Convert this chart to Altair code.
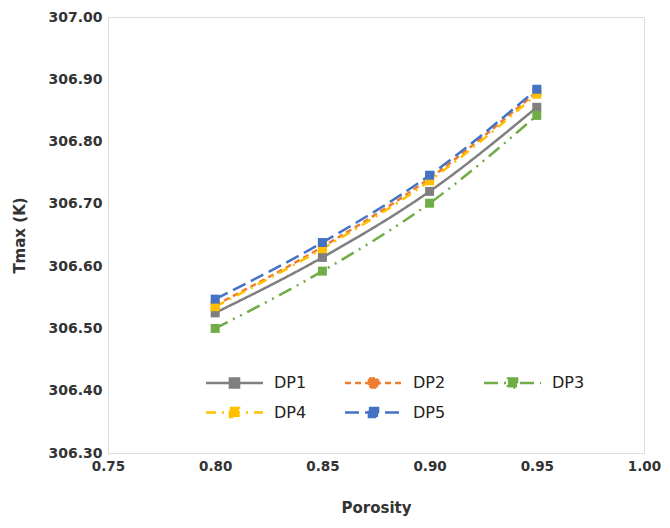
import altair as alt
import pandas as pd

porosity = [0.80, 0.85, 0.90, 0.95]
series_names = ["DP1", "DP2", "DP3", "DP4", "DP5"]
dp1 = [306.525, 306.614, 306.720, 306.855]
dp2 = [306.537, 306.631, 306.741, 306.880]
dp3 = [306.500, 306.592, 306.701, 306.842]
dp4 = [306.535, 306.628, 306.737, 306.876]
dp5 = [306.547, 306.638, 306.746, 306.884]
colors = ["#7F7F7F", "#ED7D31", "#70AD47", "#FFC000", "#4472C4"]
dashes = [[1, 0], [6, 4], [14, 6, 2, 6, 2, 6], [10, 6, 2, 6], [14, 6]]

rows = []
for name, vals in zip(series_names, [dp1, dp2, dp3, dp4, dp5]):
    for p, v in zip(porosity, vals):
        rows.append({"Porosity": p, "Tmax": v, "Series": name})
df = pd.DataFrame(rows)

x = alt.X("Porosity:Q", scale=alt.Scale(domain=[0.75, 1.0]),
          axis=alt.Axis(title="Porosity", values=[0.75, 0.8, 0.85, 0.9, 0.95, 1.0],
                        format=".2f", grid=False, ticks=False, domain=False, labelFlush=False,
                        labelFont="DejaVu Sans", labelFontSize=13.5, labelFontWeight="bold",
                        labelColor="#333333", labelPadding=6,
                        titleFont="DejaVu Sans", titleFontSize=15, titleFontWeight="bold",
                        titleColor="#333333", titlePadding=28))
y = alt.Y("Tmax:Q", scale=alt.Scale(domain=[306.3, 307.0], zero=False),
          axis=alt.Axis(title="Tmax (K)", values=[306.3, 306.4, 306.5, 306.6, 306.7, 306.8, 306.9, 307.0],
                        format=".2f", grid=False, ticks=False, domain=False, labelFlush=False,
                        labelFont="DejaVu Sans", labelFontSize=14, labelFontWeight="bold",
                        labelColor="#333333", labelPadding=6,
                        titleFont="DejaVu Sans", titleFontSize=15, titleFontWeight="bold",
                        titleColor="#333333", titlePadding=20))

legend = alt.Legend(title=None, orient="none", legendX=111, legendY=350,
                    columns=3, direction="horizontal",
                    symbolType="M-2,0H2M-0.32,-0.32H0.32V0.32H-0.32Z",
                    symbolSize=812, symbolStrokeWidth=2.5,
                    labelFont="DejaVu Sans", labelFontSize=16,
                    labelColor="#222222", labelOffset=24,
                    columnPadding=33, rowPadding=4, padding=0)

lines = alt.Chart(df).mark_line(interpolate="monotone", strokeWidth=2.5).encode(
    x=x, y=y,
    color=alt.Color("Series:N", scale=alt.Scale(domain=series_names, range=colors), legend=legend),
    strokeDash=alt.StrokeDash("Series:N", scale=alt.Scale(domain=series_names, range=dashes)),
    order=alt.Order("Porosity:Q"))
points = alt.Chart(df).mark_point(shape="square", filled=True, size=81, opacity=1).encode(
    x=x, y=y,
    color=alt.Color("Series:N", scale=alt.Scale(domain=series_names, range=colors), legend=None))

chart = alt.layer(lines, points).properties(
    width=536, height=436,
    autosize=alt.AutoSizeParams(type="none"),
    padding={"left": 100, "top": 9, "right": 18, "bottom": 72},
).configure_view(stroke="#222222", strokeWidth=1).configure(background="white")

chart.save("out.html", embed_options={"renderer": "svg", "actions": False})
